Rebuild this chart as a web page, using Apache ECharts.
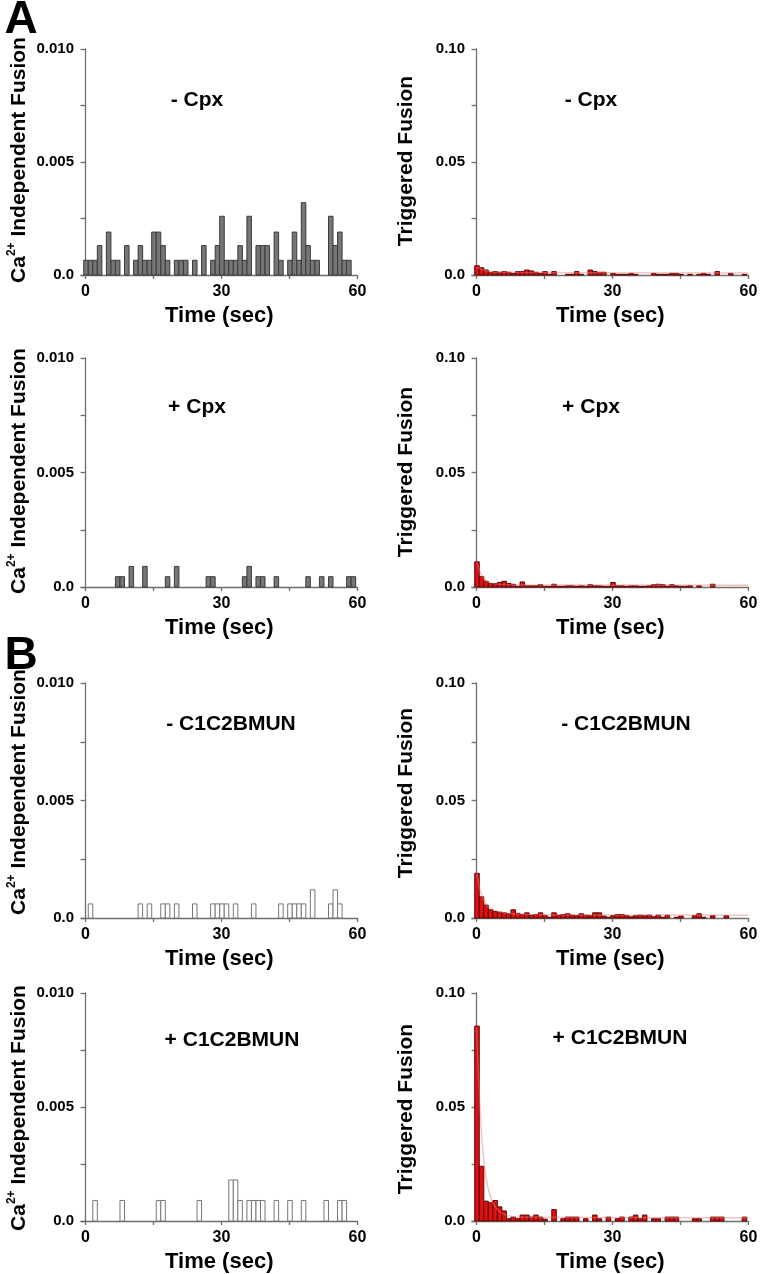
<!DOCTYPE html>
<html>
<head>
<meta charset="utf-8">
<script src="https://cdn.jsdelivr.net/npm/echarts@6/dist/echarts.min.js"></script>
<style>html,body{margin:0;padding:0;background:#fff}#c{width:762px;height:1274px}</style>
</head>
<body>
<div id="c"></div>
<script>
// ---- tick labels ----
const xTickValues = [0, 15, 30, 45, 60];
const xTickLabels = [0, 30, 60];
const spontTickLabels = [0, 0.005, 0.01];
const trigTickLabels = [0, 0.05, 0.1];

// ---- panel A: Ca2+ independent fusion, [second, value] ----
const spontMinusCpx = [[0,0.00065],[1,0.00065],[2,0.00065],[3,0.0013],[5,0.0019],[6,0.00065],[7,0.00065],[9,0.0013],[11,0.00065],[12,0.0013],[13,0.00065],[14,0.00065],[15,0.0019],[16,0.0019],[17,0.0013],[18,0.00065],[20,0.00065],[21,0.00065],[22,0.00065],[24,0.00065],[26,0.0013],[28,0.00065],[29,0.0013],[30,0.0026],[31,0.00065],[32,0.00065],[33,0.00065],[34,0.0013],[35,0.00065],[36,0.0026],[38,0.0013],[39,0.0013],[40,0.0013],[42,0.0019],[43,0.00065],[45,0.00065],[46,0.0019],[47,0.00065],[48,0.0032],[49,0.0013],[50,0.00065],[51,0.00065],[54,0.0026],[55,0.0013],[56,0.0019],[57,0.00065],[58,0.00065]];
const spontPlusCpx = [[7,0.00045],[8,0.00045],[10,0.0009],[13,0.0009],[18,0.00045],[20,0.0009],[27,0.00045],[28,0.00045],[35,0.00045],[36,0.0009],[38,0.00045],[39,0.00045],[42,0.00045],[49,0.00045],[52,0.00045],[54,0.00045],[58,0.00045],[59,0.00045]];
// ---- panel A: triggered fusion ----
const trigMinusCpx = [[0,0.0041],[1,0.0032],[2,0.0022],[3,0.0012],[4,0.0015],[5,0.0012],[6,0.0015],[7,0.0012],[8,0.0007],[9,0.0015],[10,0.0015],[11,0.0022],[12,0.0018],[13,0.0012],[14,0.0007],[15,0.0015],[16,0.0003],[17,0.0015],[20,0.0003],[21,0.0003],[22,0.0015],[23,0.0003],[25,0.0022],[26,0.0015],[27,0.0012],[28,0.0012],[30,0.0007],[31,0.0003],[32,0.0003],[33,0.0003],[34,0.0007],[35,0.0003],[39,0.0007],[40,0.0003],[41,0.0003],[42,0.0003],[43,0.0007],[44,0.0007],[45,0.0003],[47,0.0003],[49,0.0003],[50,0.0007],[51,0.0003],[53,0.0015],[56,0.0007],[59,0.0003]];
const trigPlusCpx = [[0,0.011],[1,0.0045],[2,0.0025],[3,0.0015],[4,0.0015],[5,0.002],[6,0.0025],[7,0.0015],[8,0.0012],[9,0.0003],[10,0.0022],[11,0.0005],[12,0.0005],[13,0.0005],[14,0.001],[15,0.0003],[16,0.0003],[17,0.0012],[18,0.0003],[19,0.0003],[20,0.0005],[21,0.0005],[22,0.0003],[23,0.0005],[24,0.0003],[25,0.001],[26,0.0005],[27,0.0005],[28,0.0003],[29,0.0003],[30,0.002],[31,0.0005],[32,0.0005],[33,0.0003],[34,0.0005],[35,0.0005],[36,0.0003],[37,0.0003],[38,0.0005],[39,0.001],[40,0.0012],[41,0.001],[42,0.0003],[43,0.001],[44,0.0005],[45,0.0003],[46,0.0003],[47,0.0005],[49,0.0005],[52,0.0012]];
// ---- panel B: Ca2+ independent fusion ----
const spontMinusMun = [[1,0.0006],[12,0.0006],[14,0.0006],[17,0.0006],[18,0.0006],[20,0.0006],[24,0.0006],[28,0.0006],[29,0.0006],[30,0.0006],[31,0.0006],[33,0.0006],[37,0.0006],[43,0.0006],[45,0.0006],[46,0.0006],[47,0.0006],[48,0.0006],[50,0.0012],[54,0.0006],[55,0.0012],[56,0.0006]];
const spontPlusMun = [[2,0.0009],[8,0.0009],[16,0.0009],[17,0.0009],[25,0.0009],[32,0.0018],[33,0.0018],[34,0.0009],[36,0.0009],[37,0.0009],[38,0.0009],[39,0.0009],[42,0.0009],[45,0.0009],[48,0.0009],[53,0.0009],[56,0.0009],[57,0.0009]];
// ---- panel B: triggered fusion ----
const trigMinusMun = [[0,0.019],[1,0.009],[2,0.0055],[3,0.0035],[4,0.0028],[5,0.0025],[6,0.0022],[7,0.0018],[8,0.0035],[9,0.002],[10,0.0015],[11,0.0022],[12,0.0012],[13,0.0015],[14,0.0022],[15,0.001],[16,0.0003],[17,0.0022],[18,0.0012],[19,0.0015],[20,0.0018],[21,0.0012],[22,0.001],[23,0.0018],[24,0.0012],[25,0.001],[26,0.0022],[27,0.0022],[28,0.0008],[29,0.0003],[30,0.001],[31,0.0015],[32,0.0015],[33,0.001],[34,0.0005],[35,0.001],[36,0.0012],[37,0.001],[38,0.0012],[39,0.0005],[40,0.0012],[41,0.0003],[42,0.0012],[44,0.0003],[45,0.0008],[48,0.001],[49,0.0018],[50,0.0003],[52,0.001],[55,0.001]];
const trigPlusMun = [[0,0.0855],[1,0.024],[2,0.0087],[3,0.008],[4,0.009],[5,0.0062],[6,0.0044],[7,0.001],[8,0.0017],[9,0.001],[10,0.0026],[11,0.0026],[12,0.0017],[13,0.0026],[14,0.0017],[15,0.0008],[17,0.005],[19,0.001],[20,0.0017],[21,0.0017],[22,0.0017],[24,0.001],[26,0.0026],[27,0.001],[29,0.0017],[31,0.001],[32,0.0017],[34,0.0017],[35,0.0026],[36,0.001],[37,0.0026],[39,0.001],[40,0.001],[42,0.0017],[43,0.0017],[44,0.0017],[48,0.001],[49,0.001],[52,0.0017],[53,0.0017],[54,0.0017],[59,0.0017]];
// ---- fitted decay curves ----
const fitMinusCpx = [[0,0.0035],[2,0.0018],[5,0.0012],[60,0.0009]];
const fitPlusCpx = [[0,0.011],[1,0.0055],[2,0.003],[3,0.0018],[5,0.0012],[10,0.0009],[60,0.0008]];
const fitMinusMun = [[0,0.019],[1,0.0105],[2,0.0062],[3,0.0042],[5,0.0026],[8,0.0018],[15,0.0014],[60,0.0012]];
const fitPlusMun = [[0,0.085],[1,0.042],[2,0.02],[3,0.011],[4,0.0065],[6,0.003],[10,0.0016],[60,0.0014]];

const titles = ['- Cpx','- Cpx','+ Cpx','+ Cpx','- C1C2BMUN','- C1C2BMUN','+ C1C2BMUN','+ C1C2BMUN'];

const rows = [{top:49,height:226},{top:358,height:229},{top:683,height:235},{top:993,height:229}];
const cols = [{left:81,width:276.5},{left:472,width:276.5}];

const FONT = '"Liberation Sans", Arial, Helvetica, sans-serif';
const styles = {
  gray: {fill:'#767676', stroke:'#3a3a3a'},
  white: {fill:'#ffffff', stroke:'#777777'},
  red: {fill:'#e01010', stroke:'#5a0606'}
};
const panels = [
  {r:0,c:0,data:spontMinusCpx,st:'gray'},
  {r:0,c:1,data:trigMinusCpx,st:'red',fit:fitMinusCpx},
  {r:1,c:0,data:spontPlusCpx,st:'gray'},
  {r:1,c:1,data:trigPlusCpx,st:'red',fit:fitPlusCpx},
  {r:2,c:0,data:spontMinusMun,st:'white'},
  {r:2,c:1,data:trigMinusMun,st:'red',fit:fitMinusMun},
  {r:3,c:0,data:spontPlusMun,st:'white'},
  {r:3,c:1,data:trigPlusMun,st:'red',fit:fitPlusMun}
];
const titlePos = [[197,100],[591,100],[197,407],[591,407],[231,724],[626,724],[232,1040],[620,1038]];

const grid = [], xAxis = [], yAxis = [], series = [], graphic = [];
const axisColor = '#6e6e6e';
panels.forEach((p, i) => {
  grid.push({left: cols[p.c].left, width: cols[p.c].width, top: rows[p.r].top, height: rows[p.r].height});
  xAxis.push({
    type:'value', gridIndex:i, min:-1, max:60,
    axisLine:{show:true, lineStyle:{color:axisColor, width:1.3}},
    axisTick:{show:true, customValues:xTickValues, length:4, lineStyle:{color:axisColor, width:1.3}},
    axisLabel:{customValues:xTickLabels, margin:9, color:'#000', fontFamily:FONT, fontWeight:'bold', fontSize:16},
    splitLine:{show:false},
    name:'Time (sec)', nameLocation:'middle', nameGap:30,
    nameTextStyle:{color:'#000', fontFamily:FONT, fontWeight:'bold', fontSize:22}
  });
  const trig = p.c === 1;
  const maxV = trig ? 0.1 : 0.01;
  const labs = trig ? trigTickLabels : spontTickLabels;
  yAxis.push({
    type:'value', gridIndex:i, min:0, max:maxV, interval: maxV/4,
    axisLine:{show:true, lineStyle:{color:axisColor, width:1.3}},
    axisTick:{show:true, length:5, lineStyle:{color:axisColor, width:1.3}},
    axisLabel:{customValues:labs, margin:7, color:'#000', fontFamily:FONT, fontWeight:'bold', fontSize:15,
      formatter: v => v === 0 ? '0.0' : (trig ? v.toFixed(2) : v.toFixed(3))},
    splitLine:{show:false}
  });
  const s = styles[p.st];
  series.push({
    type:'custom', xAxisIndex:i, yAxisIndex:i, data:p.data, encode:{x:0, y:1},
    renderItem: (params, api) => {
      const x = api.value(0), v = api.value(1);
      const a = api.coord([x - 0.4, 0]);
      const b = api.coord([x + 0.6, v]);
      return {type:'rect', shape:{x:a[0], y:b[1], width:b[0]-a[0], height:a[1]-b[1]},
        style:{fill:s.fill, stroke:s.stroke, lineWidth:1}};
    },
    z:2
  });
  if (p.fit) {
    series.push({
      type:'line', xAxisIndex:i, yAxisIndex:i, data:p.fit, smooth:0.4, showSymbol:false, silent:true,
      lineStyle:{color:'rgba(235,120,120,0.45)', width:1.5}, z:3
    });
  }
  graphic.push({type:'text', x:titlePos[i][0], y:titlePos[i][1],
    style:{text:titles[i], font:'bold 21px ' + FONT, fill:'#000', textAlign:'center', textVerticalAlign:'middle'}});
});

// y axis names
const yNameCenters = [160, 471, 792, 1108];
yNameCenters.forEach(cy => {
  graphic.push({type:'text', x:18, y:cy, rotation:Math.PI/2,
    style:{text:'{m|Ca}{s|2+}{m| Independent Fusion}', textAlign:'center', textVerticalAlign:'middle', fill:'#000',
      rich:{m:{fontFamily:FONT, fontWeight:'bold', fontSize:21, lineHeight:24, verticalAlign:'bottom'},
            s:{fontFamily:FONT, fontWeight:'bold', fontSize:12, lineHeight:24, verticalAlign:'top'}}}});
  graphic.push({type:'text', x:406, y:cy + 1, rotation:Math.PI/2,
    style:{text:'Triggered Fusion', font:'bold 21px ' + FONT, fill:'#000', textAlign:'center', textVerticalAlign:'middle'}});
});
graphic.push({type:'text', x:21, y:20, style:{text:'A', font:'bold 46px ' + FONT, fill:'#000', textAlign:'center', textVerticalAlign:'middle'}});
graphic.push({type:'text', x:21, y:656, style:{text:'B', font:'bold 46px ' + FONT, fill:'#000', textAlign:'center', textVerticalAlign:'middle'}});

const chart = echarts.init(document.getElementById('c'), null, {renderer:'canvas'});
chart.setOption({animation:false, backgroundColor:'#fff', grid, xAxis, yAxis, series, graphic});
</script>
</body>
</html>
